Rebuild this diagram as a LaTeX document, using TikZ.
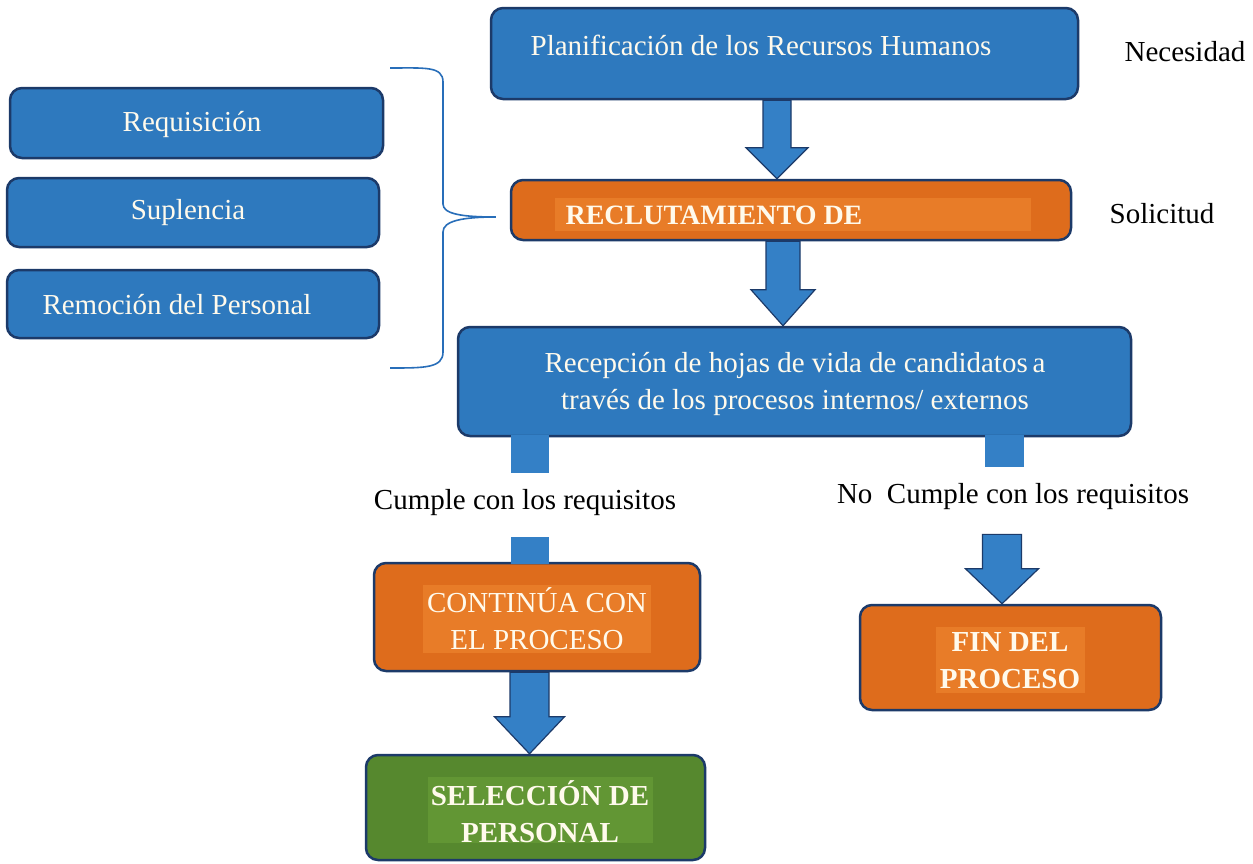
\documentclass[tikz,border=0pt]{standalone}
\usepackage{fontspec}
\setmainfont{Liberation Serif}
\usetikzlibrary{calc}
\definecolor{bfill}{RGB}{46,121,190}
\definecolor{bline}{RGB}{28,58,105}
\definecolor{afill}{RGB}{52,128,198}
\definecolor{ofill}{RGB}{222,108,28}
\definecolor{ohi}{RGB}{232,124,40}
\definecolor{gfill}{RGB}{86,136,46}
\definecolor{ghi}{RGB}{98,150,52}
\definecolor{txt}{RGB}{255,250,236}
\definecolor{brc}{RGB}{40,110,185}
\tikzset{
  box/.style={draw=bline, line width=2.5pt, rounded corners=12pt, inner sep=0pt},
  bluebox/.style={box, fill=bfill},
  orangebox/.style={box, fill=ofill},
  greenbox/.style={box, fill=gfill},
  hilite/.style={inner sep=0pt},
  intext/.style={text=txt, align=center, inner sep=0pt, font=\fontsize{29}{37}\selectfont},
  boldtext/.style={intext, font=\fontsize{29}{37}\selectfont\bfseries},
  outtext/.style={text=black, align=center, inner sep=0pt, font=\fontsize{29}{36}\selectfont},
  arrowsty/.style={fill=afill, draw=bline, line width=1.2pt, line join=miter},
  stub/.style={fill=afill, draw=none},
  bracesty/.style={draw=brc, line width=1.6pt}
}
% #1 start (top centre), #2 tip, #3 shaft half width, #4 head half width, #5 head length
\newcommand\blockarr[5]{%
  \path[arrowsty] let \p1=(#1), \p2=(#2) in
    (\x1-#3,\y1) -- (\x1+#3,\y1) -- (\x1+#3,\y2+#5) -- (\x1+#4,\y2+#5) --
    (\x1,\y2) -- (\x1-#4,\y2+#5) -- (\x1-#3,\y2+#5) -- cycle;}
\begin{document}
\begin{tikzpicture}[x=1pt,y=-1pt]
\useasboundingbox (0,0) rectangle (1253,863);
\fill[white] (0,0) rectangle (1253,863);

% ---- main column boxes
\node[bluebox, minimum width=587pt, minimum height=91pt] (plan) at (784.5,53.5) {};
\node[intext] (plant) at (761,45) {Planificación de los Recursos Humanos};

\node[orangebox, minimum width=560pt, minimum height=60pt] (reclut) at (791,210) {};
\fill[ohi] (555,198) rectangle (1031,231);
\node[boldtext, font=\fontsize{28}{34}\selectfont\bfseries] (reclutt) at (714,215) {RECLUTAMIENTO DE};

\node[bluebox, minimum width=673pt, minimum height=109pt] (recep) at (794.5,381.5) {};
\node[intext] (recept) at (795,384) {Recepción de hojas de vida de candidatos\,a\\través de los procesos internos/ externos};

\node[orangebox, minimum width=326pt, minimum height=108pt] (cont) at (537,617) {};
\fill[ohi] (423,585) rectangle (651,653);
\node[intext] (contt) at (537,619) {CONTINÚA CON\\EL PROCESO};

\node[greenbox, minimum width=339pt, minimum height=105pt] (sel) at (535.5,807.5) {};
\fill[ghi] (428,777) rectangle (653,843);
\node[boldtext] (selt) at (540,812) {SELECCIÓN DE\\PERSONAL};

\node[orangebox, minimum width=301pt, minimum height=105pt] (fin) at (1010.5,657.5) {};
\fill[ohi] (936,627) rectangle (1085,693);
\node[boldtext] (fint) at (1010,661) {FIN DEL\\PROCESO};

% ---- left boxes
\node[bluebox, minimum width=373pt, minimum height=70pt] (req) at (196.5,123) {};
\node[intext] (reqt) at (192,124) {Requisición};
\node[bluebox, minimum width=372pt, minimum height=69pt] (sup) at (193,212.5) {};
\node[intext] (supt) at (188,213) {Suplencia};
\node[bluebox, minimum width=372pt, minimum height=68pt] (rem) at (193,304) {};
\node[intext] (remt) at (177,305) {Remoción del Personal};

% ---- side labels
\node[outtext] (nec) at (1185,52) {Necesidad};
\node[outtext] (sol) at (1162,214) {Solicitud};
\node[outtext] (cum) at (525,503) {Cumple con los requisitos};
\node[outtext] (nocum) at (1013,497) {No\ \ Cumple con los requisitos};

% ---- block arrows
\blockarr{$(plan.south)+(-7.5,0)$}{reclut.north}{14pt}{31pt}{31pt}
\blockarr{$(reclut.south)+(-8,0)$}{recep.north}{17pt}{32pt}{36pt}
\blockarr{$(cont.south)+(-7.5,0)$}{sel.north}{19.5pt}{35pt}{37pt}
\blockarr{$(nocum.south)+(-11,24)$}{fin.north}{19.5pt}{36.5pt}{35pt}

% ---- stubs
\fill[stub] ($(recep.south)+(-283.5,-2)$) rectangle ($(recep.south)+(-245.5,36)$);
\fill[stub] ($(recep.south)+(190.5,-2)$) rectangle ($(recep.south)+(229.5,30)$);
\fill[stub] ($(cont.north)+(-26,-25)$) rectangle ($(cont.north)+(12,2)$);

% ---- brace
\coordinate (btip) at ($(reclut.west)+(-14,7)$);
\draw[bracesty] (390,68) .. controls (425,68) and (443,66) .. (443,82)
  -- (443,204) .. controls (443,214) and (462,217) .. (btip)
  .. controls (462,217) and (443,221) .. (443,232)
  -- (443,352) .. controls (443,368) and (425,368) .. (390,368);
\end{tikzpicture}
\end{document}
